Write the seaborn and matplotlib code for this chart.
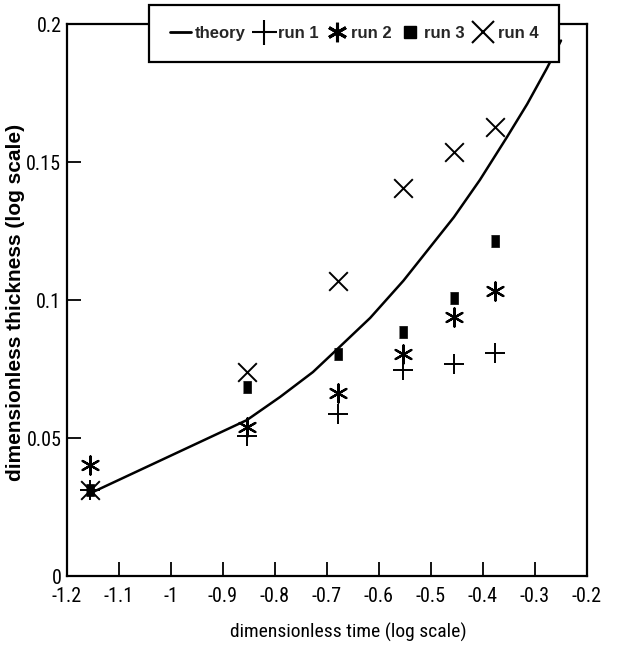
import matplotlib
matplotlib.use("Agg")
import matplotlib.pyplot as plt
import seaborn as sns
import pandas as pd
from matplotlib import font_manager
from matplotlib.lines import Line2D

# ---- data ----
time_x = [-1.155, -0.854, -0.678, -0.553, -0.456, -0.377]
theory_x = [-1.155, -0.854, -0.79, -0.727, -0.678, -0.617, -0.553, -0.456, -0.406, -0.354, -0.315, -0.277, -0.25]
theory_y = [0.030, 0.0565, 0.0649, 0.0739, 0.0826, 0.0935, 0.107, 0.130, 0.1435, 0.159, 0.171, 0.184, 0.194]
run1 = [0.0312, 0.0507, 0.0587, 0.0746, 0.0768, 0.0808]
run2 = [0.0402, 0.0540, 0.0663, 0.0804, 0.0938, 0.1033]
run3 = [0.0310, 0.0685, 0.0804, 0.0884, 0.1007, 0.1214]
run4 = [0.0310, 0.0739, 0.1069, 0.1406, 0.1536, 0.1627]
x_ticks = [-1.2, -1.1, -1, -0.9, -0.8, -0.7, -0.6, -0.5, -0.4, -0.3, -0.2]
y_ticks = [0, 0.05, 0.1, 0.15, 0.2]
x_ticklabels = ["-1.2", "-1.1", "-1", "-0.9", "-0.8", "-0.7", "-0.6", "-0.5", "-0.4", "-0.3", "-0.2"]
y_ticklabels = ["0", "0.05", "0.1", "0.15", "0.2"]
legend_labels = ["theory", "run 1", "run 2", "run 3", "run 4"]

sns.set_theme(style="white")
names = {f.name for f in font_manager.fontManager.ttflist}
cands = ["Liberation Sans Narrow", "Roboto Condensed", "Arial Narrow", "Liberation Sans"]
narrow = next((c for c in cands if c in names), "DejaVu Sans")
plt.rcParams["font.family"] = [narrow, "DejaVu Sans"]

fig = plt.figure(figsize=(6.17, 6.53), dpi=100)
ax = fig.add_axes([67/617, 1-576/653, 520/617, 552/653])

th = pd.DataFrame({"x": theory_x, "y": theory_y})
sns.lineplot(data=th, x="x", y="y", ax=ax, color="black", linewidth=1.8, legend=False)

df = pd.DataFrame({"x": time_x, "r1": run1, "r2": run2, "r3": run3, "r4": run4})
sns.scatterplot(data=df, x="x", y="r1", ax=ax, marker="+", s=220, color="black", linewidth=1.4, legend=False)
sns.scatterplot(data=df, x="x", y="r2", ax=ax, marker=(6, 2, 0), s=170, color="black", linewidth=1.6, legend=False)
sns.scatterplot(data=df, x="x", y="r3", ax=ax, marker=[(-0.7, -1), (0.7, -1), (0.7, 1), (-0.7, 1)], s=70,
                color="black", edgecolor="black", linewidth=0.5, legend=False)
sns.scatterplot(data=df, x="x", y="r4", ax=ax, marker="x", s=180, color="black", linewidth=1.4, legend=False)

ax.set_xlim(-1.2, -0.2)
ax.set_ylim(0, 0.2)
ax.set_xticks(x_ticks)
ax.set_xticklabels(x_ticklabels)
ax.set_yticks(y_ticks)
ax.set_yticklabels(y_ticklabels)
ax.tick_params(direction="in", length=10, width=1.3, colors="black", labelsize=14.5,
               bottom=True, left=True, top=False, right=False)
ax.tick_params(axis="x", pad=8)
ax.tick_params(axis="y", pad=4)
for sp in ax.spines.values():
    sp.set_color("black")
    sp.set_linewidth(1.6)

ax.set_xlabel("dimensionless time (log scale)", fontsize=14, color="black")
ax.xaxis.set_label_coords((348-67)/520, -(623-576)/552)
ax.set_ylabel("dimensionless thickness (log scale)", fontsize=15, color="black",
              family=["Liberation Sans", "DejaVu Sans"], fontweight="bold")
ax.yaxis.set_label_coords(-0.08, 0.496)

handles = [
    Line2D([], [], color="black", linewidth=2),
    Line2D([], [], color="black", marker="+", linestyle="", markersize=18, markeredgewidth=1.5),
    Line2D([], [], color="black", marker=(6, 2, 0), linestyle="", markersize=14, markeredgewidth=2.2),
    Line2D([], [], color="black", marker="s", linestyle="", markersize=8),
    Line2D([], [], color="black", marker="x", linestyle="", markersize=16, markeredgewidth=1.5),
]
leg = fig.legend(handles, legend_labels, loc="upper center", bbox_to_anchor=(354/617, 1-5/653), ncol=5,
                 frameon=True, fancybox=False, edgecolor="black", framealpha=1,
                 handlelength=1.25, handletextpad=0.25, columnspacing=0.45, borderpad=1.25,
                 borderaxespad=0.0,
                 prop={"family": ["Liberation Sans", "DejaVu Sans"], "weight": "bold", "size": 12})
leg.get_frame().set_linewidth(1.6)
leg.set_zorder(10)

fig.savefig("out.png", dpi=100)
